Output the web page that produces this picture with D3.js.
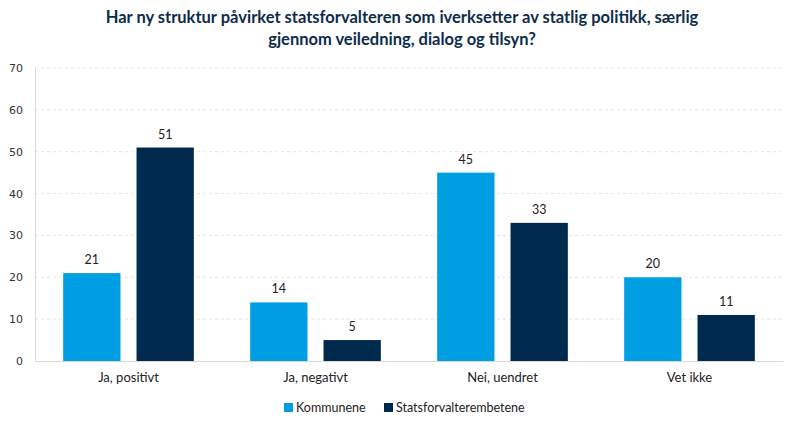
<!DOCTYPE html>
<html><head><meta charset="utf-8">
<script src="https://cdn.jsdelivr.net/npm/d3@7"></script>
<style>body{margin:0;background:#fff}</style>
</head><body>
<svg id="c" width="800" height="428"></svg>
<script>
const categories = ["Ja, positivt", "Ja, negativt", "Nei, uendret", "Vet ikke"];
const seriesNames = ["Kommunene", "Statsforvalterembetene"];
const kommunene = [21, 14, 45, 20];
const statsforvalter = [51, 5, 33, 11];
const yTicks = [0, 10, 20, 30, 40, 50, 60, 70];
const colors = ["#009fe3", "#002a4d"];
const titleLines = ["Har ny struktur påvirket statsforvalteren som iverksetter av statlig politikk, særlig", "gjennom veiledning, dialog og tilsyn?"];

const svg = d3.select("#c");
const m = {l: 35, r: 17, t: 68, b: 67};
const W = 800, H = 428;
const x = d3.scaleBand().domain(categories).range([m.l, W - m.r]).paddingInner(0).paddingOuter(0);
const xs = d3.scaleBand().domain(seriesNames).range([0, x.bandwidth()]).paddingInner(0.219).paddingOuter(0.384);
const y = d3.scaleLinear().domain([0, 70]).range([H - m.b, m.t]);

// title
svg.append("text").attr("x", 402).attr("text-anchor", "middle")
  .attr("font-family", "Lato, 'Open Sans', sans-serif").attr("font-weight", "bold")
  .attr("font-size", 16.5).attr("fill", "#0d2c4b")
  .selectAll("tspan").data(titleLines).join("tspan")
  .attr("x", 402).attr("y", (d, i) => 23 + i * 22).text(d => d);

// grid
svg.append("g").selectAll("line").data(yTicks.filter(d => d > 0)).join("line")
  .attr("x1", m.l).attr("x2", W - m.r).attr("y1", d => y(d)).attr("y2", d => y(d))
  .attr("stroke", "#e4e4e4").attr("stroke-dasharray", "3,3").attr("stroke-width", 1);

// y axis
const ya = svg.append("g").attr("transform", `translate(${m.l},0)`)
  .call(d3.axisLeft(y).tickValues(yTicks).tickSize(0).tickPadding(12));
ya.select(".domain").attr("stroke", "#d9d9d9");
ya.selectAll("text").attr("font-family", "'DejaVu Sans', Verdana, sans-serif").attr("font-size", 11).attr("fill", "#333");

// x axis
const xa = svg.append("g").attr("transform", `translate(0,${H - m.b})`)
  .call(d3.axisBottom(x).tickSize(0).tickPadding(12));
xa.select(".domain").attr("stroke", "#d9d9d9");
xa.selectAll("text").attr("font-family", "Lato, 'Open Sans', sans-serif").attr("font-size", 13).attr("fill", "#222");

// bars
const data = categories.map((c, i) => ({c, vals: [kommunene[i], statsforvalter[i]]}));
const g = svg.append("g").selectAll("g").data(data).join("g")
  .attr("transform", d => `translate(${x(d.c)},0)`);
g.selectAll("rect").data(d => d.vals.map((v, j) => ({v, s: seriesNames[j], j}))).join("rect")
  .attr("x", d => xs(d.s)).attr("width", xs.bandwidth())
  .attr("y", d => y(d.v)).attr("height", d => y(0) - y(d.v))
  .attr("fill", d => colors[d.j]);
g.selectAll("text").data(d => d.vals.map((v, j) => ({v, s: seriesNames[j]}))).join("text")
  .attr("x", d => xs(d.s) + xs.bandwidth() / 2).attr("y", d => y(d.v) - 9)
  .attr("text-anchor", "middle").attr("font-family", "Lato, 'Open Sans', sans-serif")
  .attr("font-size", 12.5).attr("fill", "#222").text(d => d.v);

// legend
const leg = svg.append("g");
const lx = [284, 384];
seriesNames.forEach((s, i) => {
  leg.append("rect").attr("x", lx[i]).attr("y", 403).attr("width", 9).attr("height", 9).attr("fill", colors[i]);
  leg.append("text").attr("x", lx[i] + 12).attr("y", 412).attr("font-family", "Lato, 'Open Sans', sans-serif")
    .attr("font-size", 12.5).attr("fill", "#222").text(s);
});
</script>
</body></html>
